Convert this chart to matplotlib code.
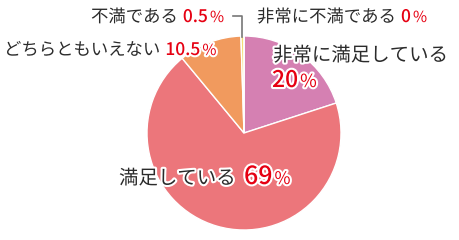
import matplotlib
matplotlib.use("Agg")
import matplotlib.pyplot as plt
import matplotlib.patheffects as pe

plt.rcParams['font.family'] = ['Noto Sans CJK JP', 'DejaVu Sans']

# answers, clockwise from the top
labels = ['非常に満足している', '満足している', 'どちらともいえない', '不満である', '非常に不満である']
values = [20, 69, 10.5, 0.5, 0]
pct_text = ['20', '69', '10.5', '0.5', '0']
colors = ['#d580b2', '#ec767b', '#f19a5e', '#f3de74', '#cccccc']

fig = plt.figure(figsize=(4.6, 2.4), dpi=100)
ax = fig.add_axes([0, 0, 1, 1])
ax.set_xlim(0, 460)
ax.set_ylim(0, 240)
ax.set_aspect('equal')
ax.axis('off')

ax.pie(values, colors=colors, startangle=90, counterclock=False,
       center=(244, 107), radius=97,
       wedgeprops=dict(edgecolor='white', linewidth=1.0))
ax.set_xlim(0, 460)
ax.set_ylim(0, 240)

# leader line for the small slice
ax.plot([233, 242.5, 242.5], [224, 224, 203], color='#777777', lw=1.2)

outline = [pe.withStroke(linewidth=3, foreground='white')]
fig.canvas.draw()
renderer = fig.canvas.get_renderer()


def put(x, y, parts):
    # parts: list of (text, size, color, weight, gap_after)
    for s, size, col, wt, gap in parts:
        t = ax.text(x, y, s, fontsize=size, color=col, fontweight=wt,
                    ha='left', va='baseline', path_effects=outline)
        bb = t.get_window_extent(renderer)
        x += bb.width + gap


dark = '#2b2b2b'
red = '#e60012'

put(91, 240 - 22, [('不満である', 12.5, dark, 'normal', 5),
                   (pct_text[3], 12.5, red, 'medium', 2),
                   ('%', 11, red, 'normal', 0)])
put(257, 240 - 22, [('非常に不満である', 12.5, dark, 'normal', 5),
                    (pct_text[4], 12.5, red, 'medium', 2),
                    ('%', 11, red, 'normal', 0)])
put(4, 240 - 55, [('どちらともいえない', 12.5, dark, 'normal', 5),
                  (pct_text[2], 12.5, red, 'medium', 2),
                  ('%', 11, red, 'normal', 0)])
put(273, 240 - 61, [(labels[0], 14, dark, 'normal', 0)])
put(272, 240 - 87, [(pct_text[0], 16.5, red, 'medium', 2),
                    ('%', 13, red, 'normal', 0)])
put(119, 240 - 184, [(labels[1], 14, dark, 'normal', 8),
                     (pct_text[1], 18, red, 'medium', 2),
                     ('%', 12.5, red, 'normal', 0)])

fig.savefig('out.png', dpi=100, facecolor='white')
